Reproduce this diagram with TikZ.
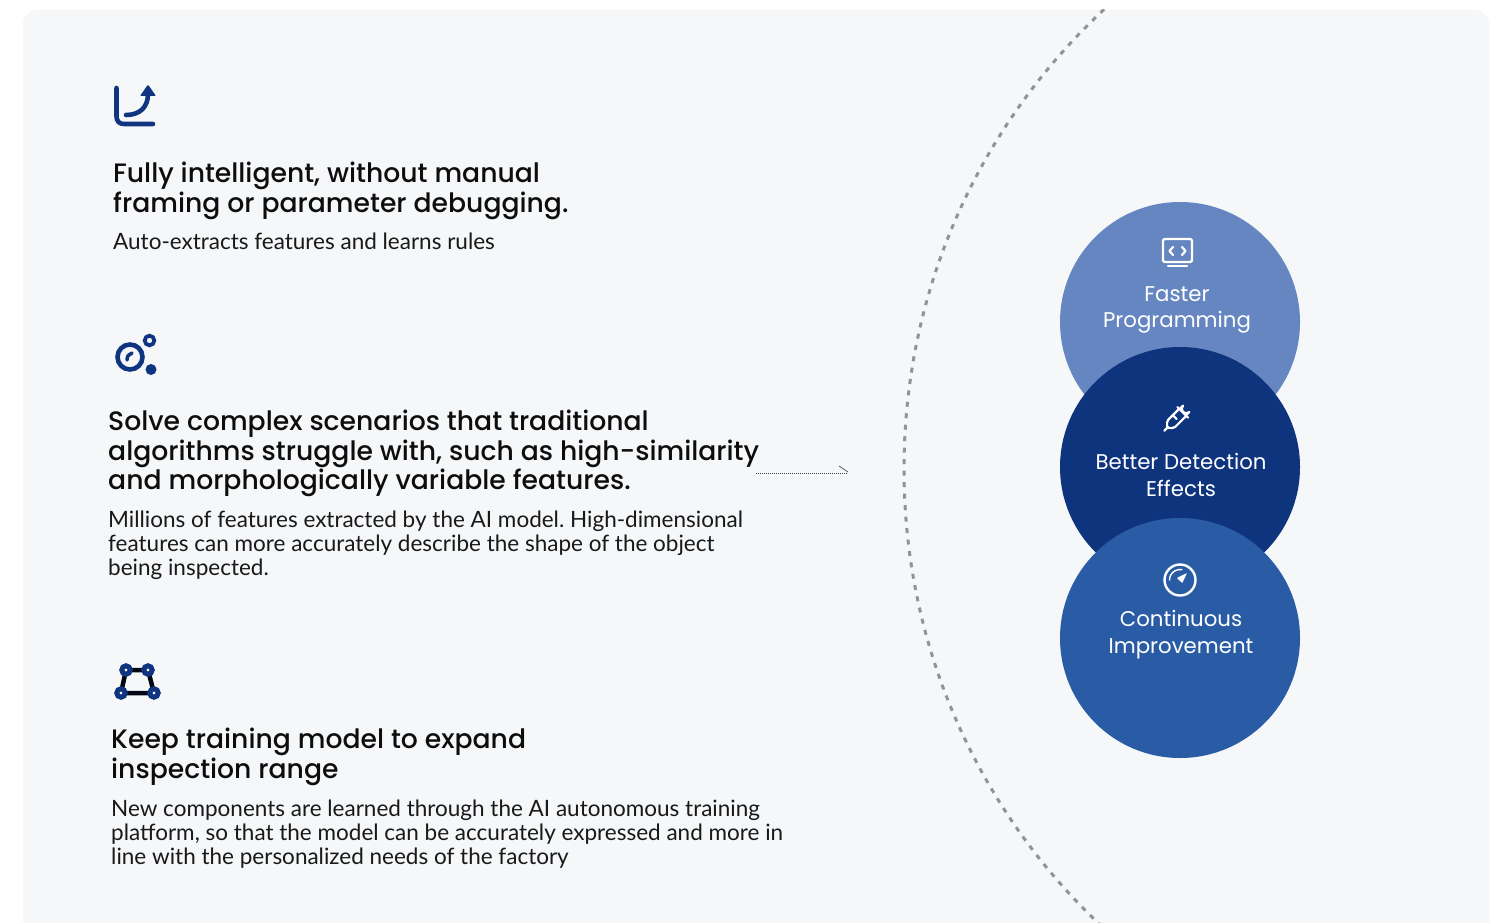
\documentclass[tikz,border=0pt]{standalone}
\usepackage{fontspec}
\setmainfont{Poppins}
\newfontfamily\headfont{Poppins Medium}
\newfontfamily\bodyfont{Lato}
\frenchspacing
\definecolor{card}{HTML}{F5F7F9}
\definecolor{navy}{HTML}{0F3580}
\definecolor{cA}{HTML}{6686C1}
\definecolor{cB}{HTML}{0F347E}
\definecolor{cC}{HTML}{2A5CA5}
\tikzset{x=1pt,y=-1pt,
 headtext/.style={anchor=north west,align=left,inner sep=0pt,font=\headfont\fontsize{26.65}{29.5}\selectfont,text=black!95},
 subtext/.style={anchor=north west,align=left,inner sep=0pt,font=\bodyfont\fontsize{22.5}{24}\selectfont,text=black!90},
 circletext/.style={align=center,inner sep=0pt,text=white,font=\fontsize{21.3}{26.7}\selectfont},
 iconline/.style={draw=navy,line width=4.6pt,line cap=round,line join=round},
 whiteline/.style={draw=white,line width=2.2pt,line cap=round,line join=round},
}
\begin{document}
\begin{tikzpicture}
\useasboundingbox (0,0) rectangle (1501,923);
\fill[white] (0,0) rectangle (1501,923);
\begin{scope}
\clip (0,0) rectangle (1501,923);
\fill[card,rounded corners=14pt] (23,10) rectangle (1489,960);
\end{scope}
\begin{scope}
\clip (23,10) rectangle (1489,923);
\draw[gray!85,line width=3pt,dash pattern=on 5pt off 6.5pt] (1532,469) circle[radius=628];
\end{scope}
% circles
\node[circle,fill=cA,minimum size=240pt,inner sep=0pt] (c1) at (1180,322) {};
\node[circle,fill=cB,minimum size=240pt,inner sep=0pt] (c2) at (1180,467) {};
\node[circle,fill=cC,minimum size=240pt,inner sep=0pt] (c3) at (1180,638) {};
\node[circletext] (t1) at (1177,310) {Faster\\Programming};
\node[circletext] (t2) at (1181,475) {Better Detection\\Effects};
\node[circletext] (t3) at (1181,634.5) {Continuous\\Improvement};
% icon monitor
\draw[whiteline,rounded corners=1.5pt] (1163,239) rectangle (1192,262);
\draw[whiteline] (1168,266) -- (1187,266);
\draw[whiteline] (1173,247) -- (1169.5,251) -- (1173,255);
\draw[whiteline] (1182,247) -- (1185.5,251) -- (1182,255);
% icon dropper
\begin{scope}[shift={(1177,418)},rotate=-45]
\draw[whiteline] (-4.5,-9) -- (-4.5,-13) arc[start angle=180,end angle=0,radius=4.5] -- (4.5,-9);
\draw[whiteline] (-7.5,-8) -- (7.5,-8);
\draw[whiteline,rounded corners=1.5pt] (-5,-8) -- (-5,9) -- (0,14) -- (5,9) -- (5,-8);
\draw[whiteline] (0,14) -- (0,18);
\draw[whiteline] (-5,1) -- (0.5,1);
\end{scope}
% icon gauge
\draw[whiteline,line width=2.4pt] (1180,580) circle[radius=15.5];
\draw[white,line width=1.4pt,line cap=round] (1169.5,580) arc[start angle=180,end angle=280,radius=10.5];
\fill[white,rounded corners=0.6pt] (1187,573) -- (1182.3,583) -- (1176.8,578) -- cycle;
% head texts
\node[headtext] (h1) at (113,162.2) {Fully intelligent, without manual\\framing or parameter debugging.};
\node[subtext] (s1) at (113,233) {Auto-extracts features and learns rules};
\node[headtext] (h2) at (108,410.2) {Solve complex scenarios that traditional\\algorithms struggle with, such as high-similarity\\and morphologically variable features.};
\node[subtext] (s2) at (108,510.5) {Millions of features extracted by the AI model. High-dimensional\\features can more accurately describe the shape of the object\\being inspected.};
\node[headtext] (h3) at (111,728.2) {Keep training model to expand\\inspection range};
\node[subtext] (s3) at (111,799.5) {New components are learned through the AI autonomous training\\platform, so that the model can be accurately expressed and more in\\line with the personalized needs of the factory};
% stray arrow
\coordinate (a1) at (756,473);
\coordinate (a2) at (848,473);
\draw[black!75,line width=0.7pt,dash pattern=on 1pt off 1pt] (a1) -- (a2);
\draw[black!65,line width=0.7pt] (839,466) -- (848,472);
% icon 1
\draw[iconline] (116.5,88) -- (116.5,116) .. controls (116.5,121) and (119,124) .. (124,124) -- (153,124);
\draw[iconline] (126,115) .. controls (140,115) and (148,107) .. (148,94);
\fill[navy,rounded corners=1pt] (148,84.5) -- (156,96) -- (140,96) -- cycle;
% icon 2
\draw[navy,line width=4.6pt] (130,357) circle[radius=12.5];
\draw[navy,line width=3.5pt,line cap=round] (127,360) .. controls (127,356) and (129,354) .. (132,353);
\draw[navy,line width=3.8pt] (149.5,340.5) circle[radius=4.8];
\fill[navy] (151,369.5) circle[radius=5.5];
% icon 3
\draw[black!85!navy,line width=4.5pt] (126,670) -- (148,670) -- (154,693) -- (121,693) -- cycle;
\foreach \p in {(126,670),(148,670),(154,693),(121,693)}
 \draw[navy,line width=5pt,fill=card] \p circle[radius=4.2];
\end{tikzpicture}
\end{document}
